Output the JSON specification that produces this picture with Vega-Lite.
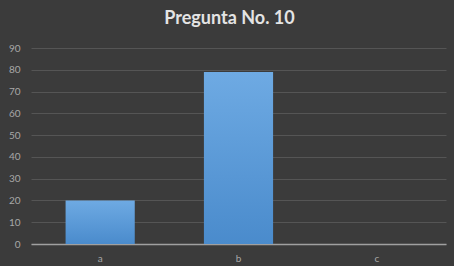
{
  "$schema": "https://vega.github.io/schema/vega-lite/v6.json",
  "autosize": {"type": "none"},
  "width": 415,
  "height": 196,
  "padding": {"left": 31, "top": 48, "right": 8, "bottom": 22},
  "background": "#3b3b3b",
  "title": {
    "text": "Pregunta No. 10",
    "font": "Lato",
    "fontSize": 18,
    "fontWeight": "bold",
    "color": "#e4e4e4",
    "anchor": "middle",
    "dx": -9,
    "offset": 15
  },
  "data": {
    "values": [
      {"opcion": "a", "valor": 20},
      {"opcion": "b", "valor": 79},
      {"opcion": "c", "valor": 0}
    ]
  },
  "mark": {
    "type": "bar",
    "color": {
      "gradient": "linear",
      "x1": 0, "y1": 0, "x2": 0, "y2": 1,
      "stops": [
        {"offset": 0, "color": "#6eaae3"},
        {"offset": 1, "color": "#4a8bcc"}
      ]
    }
  },
  "encoding": {
    "x": {
      "field": "opcion",
      "type": "nominal",
      "sort": null,
      "title": null,
      "scale": {"paddingInner": 0.5, "paddingOuter": 0.25},
      "axis": {
        "labelAngle": 0,
        "labelColor": "#a8a8a8",
        "labelFont": "Lato",
        "labelFontSize": 10,
        "labelPadding": 9,
        "ticks": false,
        "domainColor": "#a0a0a0",
        "domainWidth": 1.5,
        "grid": false
      }
    },
    "y": {
      "field": "valor",
      "type": "quantitative",
      "title": null,
      "scale": {"domain": [0, 90], "nice": false},
      "axis": {
        "values": [0, 10, 20, 30, 40, 50, 60, 70, 80, 90],
        "labelColor": "#a8a8a8",
        "labelFont": "Lato",
        "labelFontSize": 10,
        "labelPadding": 11,
        "ticks": false,
        "domain": false,
        "gridColor": "#555555",
        "gridWidth": 1
      }
    }
  },
  "config": {
    "view": {"stroke": null}
  }
}
